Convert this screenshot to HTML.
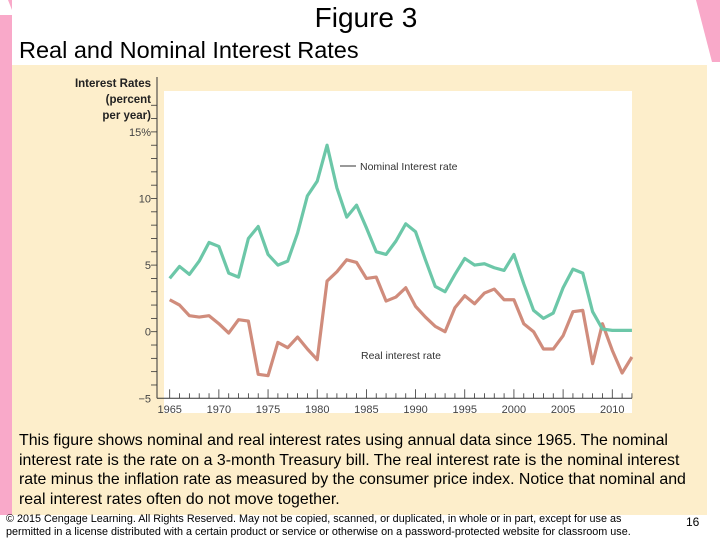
<!DOCTYPE html>
<html><head><meta charset="utf-8"><style>
body{margin:0;width:720px;height:540px;background:#fff;position:relative;overflow:hidden;font-family:"Liberation Sans",sans-serif;}
.abs{position:absolute;white-space:nowrap;}
</style></head><body>
<div class="abs" style="left:0;top:0;width:12px;height:515px;background:#f9a9c9;"></div>
<svg class="abs" style="left:0;top:0" width="720" height="80">
<polygon points="0,0 8,0 14,15 0,15" fill="#fff"/>
<polygon points="696,0 720,0 720,62 712,62" fill="#f9a9c9"/>
</svg>
<div class="abs" style="left:12px;top:65px;width:695px;height:450px;background:#fdeecb;"></div>
<div class="abs" style="left:0;width:732px;text-align:center;top:2px;font-size:28px;color:#000;">Figure 3</div>
<div class="abs" style="left:19px;top:37px;font-size:23.5px;">Real and Nominal Interest Rates</div>
<svg class="abs" style="left:0;top:0" width="720" height="430" id="chart"></svg>
<div class="abs" style="left:19px;top:431px;font-size:15.9px;line-height:19.5px;white-space:normal;width:672px;">This figure shows nominal and real interest rates using annual data since 1965. The nominal interest rate is the rate on a 3-month Treasury bill. The real interest rate is the nominal interest rate minus the inflation rate as measured by the consumer price index. Notice that nominal and real interest rates often do not move together.</div>
<div class="abs" style="left:6px;top:513px;font-size:10.8px;line-height:13px;white-space:normal;width:645px;">© 2015 Cengage Learning. All Rights Reserved. May not be copied, scanned, or duplicated, in whole or in part, except for use as permitted in a license distributed with a certain product or service or otherwise on a password-protected website for classroom use.</div>
<div class="abs" style="left:686px;top:515px;font-size:12px;">16</div>
<script>
const years=[];for(let y=1965;y<=2012;y++)years.push(y);
const nominal=[4.0,4.9,4.3,5.3,6.7,6.4,4.4,4.1,7.0,7.9,5.8,5.0,5.3,7.4,10.2,11.3,14.0,10.8,8.6,9.5,7.8,6.0,5.8,6.8,8.1,7.5,5.4,3.4,3.0,4.3,5.5,5.0,5.1,4.8,4.6,5.8,3.6,1.6,1.0,1.4,3.3,4.7,4.4,1.5,0.2,0.1,0.1,0.1];
const real=[2.4,2.0,1.2,1.1,1.2,0.6,-0.1,0.9,0.8,-3.2,-3.3,-0.8,-1.2,-0.4,-1.3,-2.1,3.8,4.5,5.4,5.2,4.0,4.1,2.3,2.6,3.3,1.9,1.1,0.4,0.0,1.8,2.7,2.1,2.9,3.2,2.4,2.4,0.6,0.0,-1.3,-1.3,-0.3,1.5,1.6,-2.4,0.6,-1.4,-3.1,-1.9];
const yTicks=[15,10,5,0,-5];
const yTickLabels=["15%","10","5","0","\u22125"];
const xTicks=[1965,1970,1975,1980,1985,1990,1995,2000,2005,2010];
const svg=document.getElementById('chart');
const NS='http://www.w3.org/2000/svg';
const X=v=>169.7+(v-1965)*9.835;
const Y=v=>331.7-v*13.32;
function mk(tag,attrs,parent){const e=document.createElementNS(NS,tag);for(const k in attrs)e.setAttribute(k,attrs[k]);(parent||svg).appendChild(e);return e;}
let bg=mk('rect',{x:164,y:91,width:468,height:322,fill:'#fff'});


let ya=mk('line',{x1:157,y1:77,x2:157,y2:Y(-5),stroke:'#333','stroke-width':1});


let xa=mk('line',{x1:157,y1:Y(-5),x2:632,y2:Y(-5),stroke:'#333','stroke-width':1});


for(let v=-4;v<=17;v++){const t=mk('line',{x1:151,y1:Y(v),x2:157,y2:Y(v),stroke:'#333','stroke-width':0.8});

}
yTicks.forEach((v,i)=>{const t=mk('text',{x:151,y:Y(v)+4,'text-anchor':'end','font-size':11,fill:'#444','font-family':'Liberation Sans, sans-serif'});t.textContent=yTickLabels[i];

});
years.forEach(yr=>{const major=yr%5===0;const t=mk('line',{x1:X(yr),y1:Y(-5),x2:X(yr),y2:Y(-5)-(major?9:5),stroke:'#333','stroke-width':0.8});

});
xTicks.forEach(yr=>{const t=mk('text',{x:X(yr),y:413,'text-anchor':'middle','font-size':11,fill:'#444','font-family':'Liberation Sans, sans-serif'});t.textContent=yr;

});
["Interest Rates","(percent","per year)"].forEach((s,i)=>{const t=mk('text',{x:151,y:87+i*16,'text-anchor':'end','font-size':11.5,'font-weight':'bold',fill:'#222','font-family':'Liberation Sans, sans-serif'});t.textContent=s;

});
function line(data,color,name){const p=mk('polyline',{points:data.map((v,i)=>X(years[i])+','+Y(v)).join(' '),fill:'none',stroke:color,'stroke-width':3.2,'stroke-linejoin':'round'});

}
line(real,'#d08c7c','real-rate-line');
line(nominal,'#6cc7a8','nominal-rate-line');
let lg=mk('line',{x1:340,y1:166,x2:356,y2:166,stroke:'#333','stroke-width':1});


let l1=mk('text',{x:360,y:170,'font-size':10.5,fill:'#333','font-family':'Liberation Sans, sans-serif'});l1.textContent='Nominal Interest rate';


let l2=mk('text',{x:361,y:359,'font-size':10.5,fill:'#333','font-family':'Liberation Sans, sans-serif'});l2.textContent='Real interest rate';


</script>
</body></html>
